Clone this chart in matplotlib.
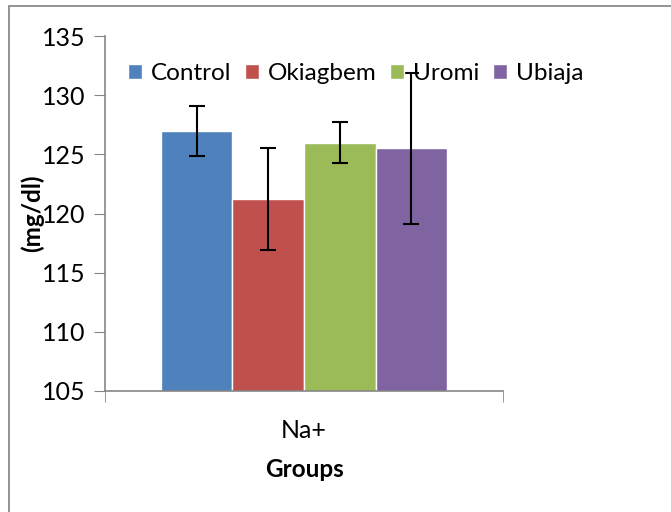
import numpy as np
import matplotlib.pyplot as plt
from matplotlib.patches import Rectangle

# data
groups = ['Control', 'Okiagbem', 'Uromi', 'Ubiaja']
means = [127.0, 121.2, 126.0, 125.5]
errs = [2.1, 4.3, 1.75, 6.4]
colors = ['#4F81BD', '#C0504D', '#9BBB59', '#8064A2']
category = 'Na+'

plt.rcParams['font.family'] = ['Lato', 'DejaVu Sans']

fig = plt.figure(figsize=(6.71, 5.12), dpi=100)
ax = fig.add_axes([105/671, 1 - 391/512, 398/671, (391 - 36)/512])

w = 0.18
offsets = (np.arange(len(groups)) - 1.5) * w
for i in range(len(groups)):
    ax.bar(offsets[i], means[i], w, bottom=0, color=colors[i], edgecolor='white',
           linewidth=1, label=groups[i], zorder=2)
    ax.errorbar(offsets[i], means[i], yerr=errs[i], fmt='none', ecolor='black',
                elinewidth=1.5, capsize=6, capthick=1.5, zorder=3)

ax.set_ylim(105, 135)
ax.set_xlim(-0.5, 0.5)
ax.set_yticks(np.arange(105, 136, 5))
ax.tick_params(axis='y', direction='out', length=8, color='#868686', labelsize=18, pad=6)
ax.set_xticks([0])
ax.set_xticklabels([category])
ax.set_xticks([-0.5, 0.5], minor=True)
ax.tick_params(axis='x', which='major', length=0, labelsize=18, pad=20)
ax.tick_params(axis='x', which='minor', direction='out', length=8, color='#868686')

for s in ['top', 'right']:
    ax.spines[s].set_visible(False)
for s in ['left', 'bottom']:
    ax.spines[s].set_color('#868686')
    ax.spines[s].set_linewidth(1.2)

ax.set_xlabel('Groups', fontsize=17.5, fontweight='bold', labelpad=12)
fig.text(32/671, 1 - 213/512, '(mg/dl)', rotation=90, fontsize=17.5, fontweight='bold',
         ha='center', va='center')

ax.legend(loc='upper left', bbox_to_anchor=(0.02, 0.965), ncol=4, frameon=False,
          fontsize=17.5, handlelength=0.6, handleheight=0.6, handletextpad=0.35,
          columnspacing=0.55, borderaxespad=0.2)

# outer frame
fig.patches.append(Rectangle((8.5/671, -0.1), 1.2, 1 - 6/512 + 0.1, transform=fig.transFigure,
                             fill=False, edgecolor='#808080', linewidth=1.2))

fig.savefig('out.png', dpi=100)
